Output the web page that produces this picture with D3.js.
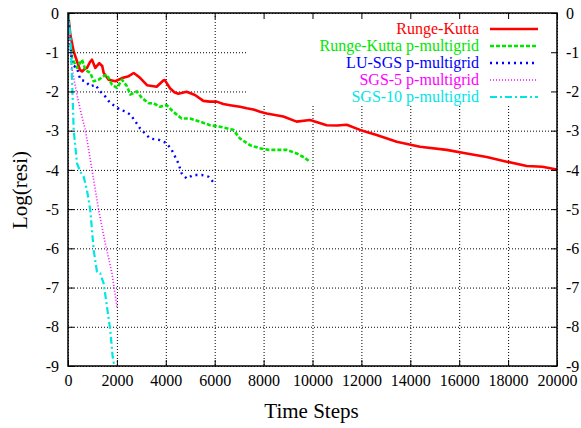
<!DOCTYPE html>
<html>
<head>
<meta charset="utf-8">
<script src="https://cdn.jsdelivr.net/npm/d3@7"></script>
<style>
  body { margin: 0; background: #fff; }
  svg text { font-family: "Liberation Serif", "Times New Roman", serif; }
</style>
</head>
<body>
<div id="chart"></div>
<script>
var W = 581, H = 428;
var margin = {top: 13, right: 24, bottom: 62, left: 68},
    width = W - margin.left - margin.right,
    height = H - margin.top - margin.bottom;

// tick values
var xTicks = [0, 2000, 4000, 6000, 8000, 10000, 12000, 14000, 16000, 18000, 20000];
var yTicks = [0, -1, -2, -3, -4, -5, -6, -7, -8, -9];

// Runge-Kutta
var rkSteps = [0, 94, 232, 368, 490, 573, 695, 777, 900, 982, 1117, 1280, 1400, 1460, 1665, 1935,
  2209, 2483, 2687, 2800, 2957, 3231, 3626, 3899, 3960, 4172, 4350, 4512, 4853, 5194, 5535, 5800,
  6081, 6353, 6626, 7035, 7308, 7581, 7853, 8126, 8806, 9352, 9898, 10581, 11000, 11400, 11943,
  12625, 13443, 14397, 15489, 16307, 17125, 17943, 18761, 19400, 20000];
var rkVals = [0, -0.55, -0.98, -1.23, -1.45, -1.49, -1.42, -1.40, -1.25, -1.19, -1.40, -1.28, -1.35,
  -1.53, -1.70, -1.74, -1.66, -1.61, -1.53, -1.58, -1.66, -1.84, -1.88, -1.72, -1.71, -1.92, -2.02,
  -2.06, -2.01, -2.09, -2.24, -2.26, -2.26, -2.32, -2.35, -2.39, -2.43, -2.46, -2.52, -2.56, -2.64,
  -2.77, -2.73, -2.86, -2.87, -2.85, -2.98, -3.11, -3.28, -3.41, -3.49, -3.58, -3.67, -3.79, -3.90,
  -3.92, -3.99];

// Runge-Kutta p-multigrid
var rkmgSteps = [0, 164, 368, 573, 708, 912, 1051, 1255, 1460, 1595, 1800, 2004, 2209, 2413, 2548,
  2822, 3027, 3300, 3490, 3763, 4036, 4307, 4649, 4990, 5399, 5808, 6217, 6762, 7035, 7444, 7853,
  8194, 8500, 8945, 9352, 9650, 9898];
var rkmgVals = [0, -1.15, -1.40, -1.19, -1.45, -1.53, -1.74, -1.70, -1.61, -1.57, -1.83, -1.91,
  -1.70, -1.87, -2.08, -2.00, -2.17, -2.30, -2.30, -2.39, -2.35, -2.52, -2.69, -2.69, -2.77, -2.86,
  -2.90, -2.98, -3.20, -3.37, -3.45, -3.49, -3.49, -3.49, -3.58, -3.68, -3.79];

// LU-SGS p-multigrid
var luSteps = [0, 164, 368, 503, 708, 912, 1117, 1321, 1527, 1730, 1935, 2139, 2343, 2548, 2740,
  2945, 3354, 3763, 4036, 4240, 4512, 4649, 4853, 5126, 5467, 5740, 5972];
var luVals = [0, -1.32, -1.40, -1.70, -1.74, -1.87, -1.83, -2.00, -2.13, -2.30, -2.38, -2.47, -2.51,
  -2.59, -2.75, -2.94, -3.20, -3.24, -3.32, -3.49, -3.83, -4.09, -4.22, -4.13, -4.13, -4.17, -4.33];

// SGS-5 p-multigrid
var sgs5Steps = [0, 150, 355, 503, 708, 982, 1255, 1527, 1800, 2004];
var sgs5Vals = [0, -1.37, -2.05, -2.47, -2.98, -4.00, -5.03, -5.88, -6.64, -7.49];

// SGS-10 p-multigrid
var sgs10Steps = [0, 82, 150, 232, 368, 503, 640, 777, 912, 1051, 1186, 1321, 1460, 1595, 1730,
  1828, 1869, 2004];
var sgs10Vals = [0, -0.52, -1.37, -2.98, -3.83, -4.05, -4.17, -4.52, -5.03, -6.05, -6.60, -6.64,
  -6.90, -7.49, -8.09, -8.77, -8.92, -8.92];

var names = ["Runge-Kutta", "Runge-Kutta p-multigrid", "LU-SGS p-multigrid", "SGS-5 p-multigrid", "SGS-10 p-multigrid"];
var colors = ["#ff0000", "#00e600", "#0000ff", "#ff00ff", "#00e6e6"];

var series = [
  {steps: rkSteps, vals: rkVals, w: 2.6, dash: null},
  {steps: rkmgSteps, vals: rkmgVals, w: 2.6, dash: "4,2"},
  {steps: luSteps, vals: luVals, w: 2.4, dash: "2,4"},
  {steps: sgs5Steps, vals: sgs5Vals, w: 1.6, dash: "1,2"},
  {steps: sgs10Steps, vals: sgs10Vals, w: 2.2, dash: "7,3,2,3"}
];

var serif = "'Liberation Serif', 'Times New Roman', serif";
var fmt = function(d) { return String(d); };   // plain hyphen minus

var svg = d3.select("#chart").append("svg")
    .attr("width", W).attr("height", H)
  .append("g")
    .attr("transform", "translate(" + margin.left + "," + margin.top + ")");

var x = d3.scaleLinear().domain([0, 20000]).range([0, width]);
var y = d3.scaleLinear().domain([-9, 0]).range([height, 0]);

// grid
svg.append("g")
  .call(d3.axisBottom(x).tickValues(xTicks).tickSize(height).tickFormat(""))
  .call(function(g) { g.select(".domain").remove(); })
  .selectAll("line")
    .attr("stroke", "#000").attr("stroke-width", 1).attr("stroke-dasharray", "1,2");
svg.append("g")
  .call(d3.axisLeft(y).tickValues(yTicks).tickSize(-width).tickFormat(""))
  .call(function(g) { g.select(".domain").remove(); })
  .selectAll("line")
    .attr("stroke", "#000").attr("stroke-width", 1).attr("stroke-dasharray", "1,2");

// key area is opaque
svg.append("rect")
  .attr("x", 180).attr("y", 1)
  .attr("width", width - 181).attr("height", 90)
  .attr("fill", "#fff");

svg.append("clipPath").attr("id", "clip")
  .append("rect").attr("width", width).attr("height", height);

var line = d3.line()
  .x(function(d) { return x(d[0]); })
  .y(function(d) { return y(d[1]); });

series.forEach(function(s, i) {
  var pts = s.steps.map(function(v, j) { return [v, s.vals[j]]; });
  svg.append("path")
    .datum(pts)
    .attr("clip-path", "url(#clip)")
    .attr("fill", "none")
    .attr("stroke", colors[i])
    .attr("stroke-width", s.w)
    .attr("stroke-linejoin", "round")
    .attr("stroke-dasharray", s.dash)
    .attr("d", line);
});

// frame
svg.append("rect")
  .attr("width", width).attr("height", height)
  .attr("fill", "none").attr("stroke", "#000").attr("stroke-width", 1.5);

// axes with inward ticks on all sides
function styleAxis(g) {
  g.attr("font-family", null).attr("font-size", null);
  g.select(".domain").remove();
  g.selectAll("line").attr("stroke", "#000").attr("stroke-width", 1);
  g.selectAll("text").attr("fill", "#000")
    .style("font-family", serif).style("font-size", "16px");
}
svg.append("g")
  .attr("transform", "translate(0," + height + ")")
  .call(d3.axisBottom(x).tickValues(xTicks).tickSizeInner(-6).tickSizeOuter(0).tickPadding(9).tickFormat(fmt))
  .call(styleAxis);
svg.append("g")
  .call(d3.axisTop(x).tickValues(xTicks).tickSizeInner(-6).tickSizeOuter(0).tickFormat(""))
  .call(styleAxis);
svg.append("g")
  .call(d3.axisLeft(y).tickValues(yTicks).tickSizeInner(-6).tickSizeOuter(0).tickPadding(9).tickFormat(fmt))
  .call(styleAxis);
svg.append("g")
  .attr("transform", "translate(" + width + ",0)")
  .call(d3.axisRight(y).tickValues(yTicks).tickSizeInner(-6).tickSizeOuter(0).tickPadding(9).tickFormat(fmt))
  .call(styleAxis);

// axis titles
svg.append("text")
  .attr("x", width / 2 - 1).attr("y", height + 52)
  .attr("text-anchor", "middle")
  .style("font-family", serif)
  .style("font-size", "21px")
  .text("Time Steps");
svg.append("text")
  .attr("transform", "rotate(-90)")
  .attr("x", -177).attr("y", -41)
  .attr("text-anchor", "middle")
  .style("font-family", serif)
  .style("font-size", "21px")
  .text("Log(resi)");

// key
names.forEach(function(n, i) {
  var yy = 16 + i * 17;
  svg.append("text")
    .attr("x", 411).attr("y", yy + 5)
    .attr("text-anchor", "end")
    .attr("fill", colors[i])
    .style("font-family", serif)
    .style("font-size", "16px")
    .text(n);
  svg.append("line")
    .attr("x1", 422).attr("x2", 470)
    .attr("y1", yy).attr("y2", yy)
    .attr("stroke", colors[i])
    .attr("stroke-width", series[i].w)
    .attr("stroke-dasharray", series[i].dash);
});
</script>
</body>
</html>
